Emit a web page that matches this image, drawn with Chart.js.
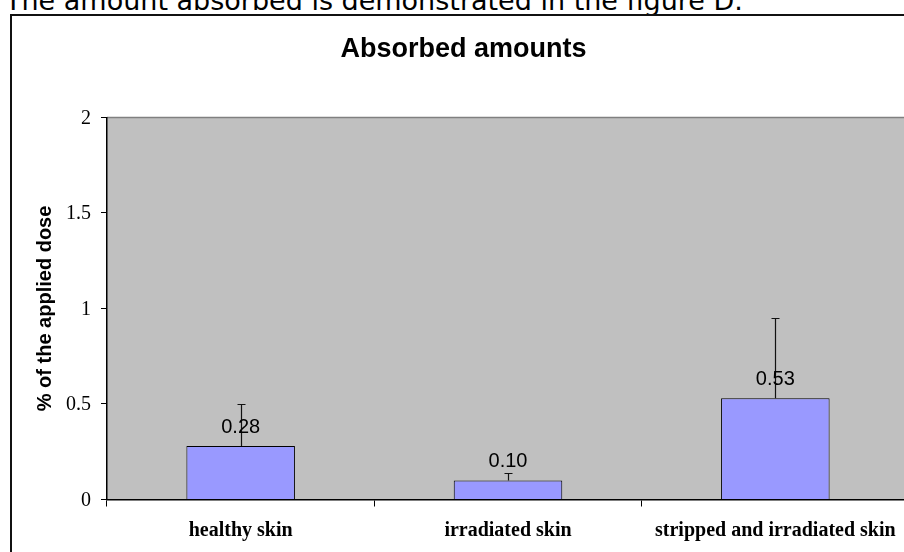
<!DOCTYPE html>
<html>
<head>
<meta charset="utf-8">
<script src="https://cdn.jsdelivr.net/npm/chart.js@4"></script>
<style>
  html, body { margin: 0; padding: 0; background: #fff; overflow: hidden; width: 904px; height: 552px; }
  #lead { position: absolute; left: 5px; top: -13px; font: 27px 'DejaVu Sans', Verdana, sans-serif; line-height: 1; white-space: nowrap; color: #000; }
  #wrap { position: absolute; left: 0; top: 0; width: 960px; height: 552px; }
</style>
</head>
<body>
<div id="lead">The amount absorbed is demonstrated in the figure D.</div>
<div id="wrap"><canvas id="chart" width="960" height="552"></canvas></div>
<script>
// --- data ---
const categories = ['healthy skin', 'irradiated skin', 'stripped and irradiated skin'];
const absorbed   = [0.28, 0.10, 0.53];   // % of applied dose
const errorUp    = [0.22, 0.04, 0.42];   // upper error only
const valueText  = ['0.28', '0.10', '0.53'];
const yTicks     = [0, 0.5, 1, 1.5, 2];
const yTickText  = ['0', '0.5', '1', '1.5', '2'];

const SANS  = "'Liberation Sans', Arial, sans-serif";
const SERIF = "'Liberation Serif', 'Times New Roman', serif";

// outer chart frame (right/bottom edges are outside the crop) + grey plot area
const plotBg = {
    id: 'plotBg',
    beforeDraw(chart) {
        const { ctx, chartArea: a, width, height } = chart;
        ctx.save();
        ctx.strokeStyle = '#111';
        ctx.lineWidth = 2;
        ctx.beginPath();
        ctx.moveTo(11, height);
        ctx.lineTo(11, 15);
        ctx.lineTo(width, 15);
        ctx.stroke();

        ctx.fillStyle = '#c0c0c0';
        ctx.fillRect(a.left, a.top, a.right - a.left, a.bottom - a.top);
        ctx.strokeStyle = '#808080';
        ctx.lineWidth = 1.5;
        ctx.beginPath();
        ctx.moveTo(a.left, a.top);
        ctx.lineTo(a.right, a.top);
        ctx.stroke();
        ctx.restore();
    }
};

// error bars (plus side) and the value labels above the bars
const barExtras = {
    id: 'barExtras',
    afterDatasetsDraw(chart) {
        const { ctx } = chart;
        const y = chart.scales.y;
        const bars = chart.getDatasetMeta(0).data;
        ctx.save();
        ctx.strokeStyle = '#111';
        ctx.lineWidth = 1.2;
        bars.forEach((b, i) => {
            const yEnd = Math.round(y.getPixelForValue(absorbed[i] + errorUp[i])) + 0.5;
            const x = Math.round(b.x) + 0.5;
            ctx.beginPath();
            ctx.moveTo(x, b.y);
            ctx.lineTo(x, yEnd);
            ctx.moveTo(x - 4, yEnd);
            ctx.lineTo(x + 4, yEnd);
            ctx.stroke();
        });
        ctx.fillStyle = '#000';
        ctx.font = '20px ' + SANS;
        ctx.textAlign = 'center';
        ctx.textBaseline = 'middle';
        bars.forEach((b, i) => {
            ctx.fillText(valueText[i], b.x, b.y - 19);
        });
        ctx.restore();
    }
};

new Chart(document.getElementById('chart'), {
    type: 'bar',
    data: {
        labels: categories,
        datasets: [{
            data: absorbed,
            backgroundColor: '#9999ff',
            borderColor: '#000',
            borderWidth: 1,
            barPercentage: 0.406,
            categoryPercentage: 1
        }]
    },
    options: {
        responsive: false,
        animation: false,
        events: [],
        layout: { padding: { left: 18, right: 51, top: 33, bottom: 0 } },
        plugins: {
            legend: { display: false },
            tooltip: { enabled: false },
            title: {
                display: true,
                text: 'Absorbed amounts',
                color: '#000',
                font: { family: SANS, size: 27, weight: 'bold' },
                padding: { top: 0, bottom: 52 }
            }
        },
        scales: {
            x: {
                afterFit: s => { s.height = 52.5; },
                grid: {
                    offset: true,
                    drawOnChartArea: false,
                    drawTicks: true,
                    tickLength: 7,
                    color: '#000'
                },
                border: { color: '#000', width: 1.5 },
                ticks: {
                    color: '#000',
                    padding: 12,
                    maxRotation: 0,
                    font: { family: SERIF, size: 20, weight: 'bold' }
                }
            },
            y: {
                min: 0,
                max: 2,
                afterFit: s => { s.width = 89; },
                afterBuildTicks: s => { s.ticks = yTicks.map(v => ({ value: v })); },
                grid: {
                    drawOnChartArea: false,
                    drawTicks: true,
                    tickLength: 6,
                    color: '#000'
                },
                border: { color: '#000', width: 1.5 },
                ticks: {
                    color: '#000',
                    padding: 10,
                    labelOffset: 1,
                    font: { family: SERIF, size: 20 },
                    callback: (v) => yTickText[yTicks.indexOf(v)]
                },
                title: {
                    display: true,
                    text: '% of the applied dose',
                    color: '#000',
                    padding: { top: 15, bottom: 0 },
                    font: { family: SANS, size: 20, weight: 'bold' }
                }
            }
        }
    },
    plugins: [plotBg, barExtras]
});
</script>
</body>
</html>
